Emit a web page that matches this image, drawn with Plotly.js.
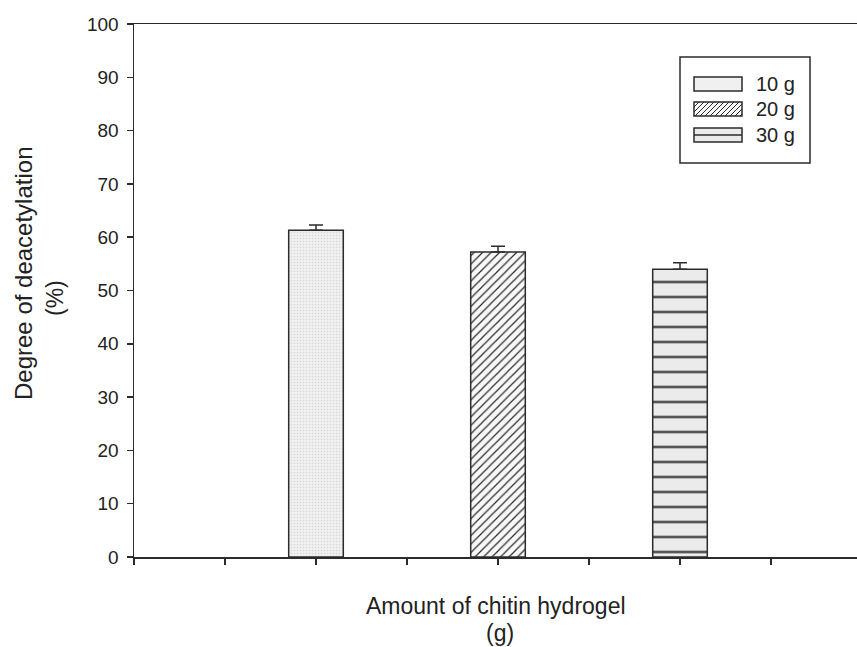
<!DOCTYPE html>
<html>
<head>
<meta charset="utf-8">
<script src="https://cdn.plot.ly/plotly-3.0.1.min.js"></script>
<style>
  html, body { margin: 0; padding: 0; background: #ffffff; overflow: hidden; }
  #chart { width: 870px; height: 647px; }
</style>
</head>
<body>
<div id="chart"></div>
<script>
// Degree of deacetylation for each amount of chitin hydrogel
const categories = ['10 g', '20 g', '30 g'];
const positions = [1, 2, 3];
const dda = [61.3, 57.2, 54.0];
const ddaErr = [1.0, 1.1, 1.2];
const yTicks = [0, 10, 20, 30, 40, 50, 60, 70, 80, 90, 100];
const xTicks = [0, 0.5, 1, 1.5, 2, 2.5, 3, 3.5, 4];

const INK = '#2b2b2b';
const TEXT = '#222222';
const FONT = 'Liberation Sans, Arial, sans-serif';

// figure geometry (pixels)
const W = 870, H = 647;
const M = { l: 134, r: 8, t: 24, b: 90 };
const plotW = W - M.l - M.r, plotH = H - M.t - M.b;
const px = x => (x - M.l) / plotW;          // pixel x -> paper x
const py = y => (H - M.b - y) / plotH;      // pixel y -> paper y

// fill style per amount: stipple, diagonal hatch, horizontal rules
const patterns = [
  { shape: '.', bgcolor: '#f0f0f0', fgcolor: '#d6d6d6', size: 3, solidity: 0.2 },
  { shape: '/', bgcolor: '#f8f8f8', fgcolor: INK, size: 6, solidity: 0.2 },
  { shape: '-', bgcolor: '#ebebeb', fgcolor: INK, size: 15, solidity: 0.14 }
];

const traces = categories.map((name, i) => ({
  type: 'bar',
  name: name,
  x: [positions[i]],
  y: [dda[i]],
  width: 0.3,
  showlegend: false,
  marker: {
    color: patterns[i].bgcolor,
    line: { color: INK, width: 1.5 },
    pattern: Object.assign({ fillmode: 'replace' }, patterns[i])
  },
  error_y: {
    type: 'data',
    symmetric: false,
    array: [ddaErr[i]],
    arrayminus: [0],
    color: INK,
    thickness: 1.5,
    width: 7
  },
  hoverinfo: 'skip'
}));

// ---- legend box drawn with shapes so the swatches can be wide ----
const legBox = { x0: 680, x1: 810, y0: 57, y1: 163 };
const swX0 = 694, swX1 = 742, swH = 14;
const rowTop = [77, 102, 128];

const shapes = [{
  type: 'rect', xref: 'paper', yref: 'paper', layer: 'above',
  x0: px(legBox.x0), x1: px(legBox.x1), y0: py(legBox.y1), y1: py(legBox.y0),
  fillcolor: '#ffffff', line: { color: INK, width: 1.5 }
}];

rowTop.forEach((top, i) => {
  const bot = top + swH;
  shapes.push({
    type: 'rect', xref: 'paper', yref: 'paper', layer: 'above',
    x0: px(swX0), x1: px(swX1), y0: py(bot), y1: py(top),
    fillcolor: patterns[i].bgcolor, line: { width: 0 }
  });
  if (patterns[i].shape === '/') {
    // diagonal hatch clipped to the swatch
    let d = '';
    const step = 5;
    for (let c = swX0 - swH; c < swX1; c += step) {
      let xa = c, ya = bot, xb = c + swH, yb = top;
      if (xa < swX0) { ya = bot - (swX0 - xa); xa = swX0; }
      if (xb > swX1) { yb = top + (xb - swX1); xb = swX1; }
      if (xb <= xa) continue;
      d += `M${px(xa)},${py(ya)}L${px(xb)},${py(yb)}`;
    }
    shapes.push({ type: 'path', xref: 'paper', yref: 'paper', layer: 'above',
      path: d, line: { color: INK, width: 1 } });
  } else if (patterns[i].shape === '-') {
    const mid = top + swH / 2;
    shapes.push({ type: 'line', xref: 'paper', yref: 'paper', layer: 'above',
      x0: px(swX0), x1: px(swX1), y0: py(mid), y1: py(mid),
      line: { color: INK, width: 1.5 } });
  }
  shapes.push({
    type: 'rect', xref: 'paper', yref: 'paper', layer: 'above',
    x0: px(swX0), x1: px(swX1), y0: py(bot), y1: py(top),
    fillcolor: 'rgba(0,0,0,0)', line: { color: INK, width: 1.5 }
  });
});

const annotations = categories.map((name, i) => ({
  text: name, xref: 'paper', yref: 'paper',
  x: px(754), y: py(rowTop[i] + swH / 2), xanchor: 'left', yanchor: 'middle',
  showarrow: false, font: { family: FONT, size: 20, color: TEXT }
}));

annotations.push(
  { text: 'Amount of chitin hydrogel', xref: 'paper', yref: 'paper',
    x: px(496), y: py(606), xanchor: 'center', yanchor: 'middle', showarrow: false,
    font: { family: FONT, size: 23, color: TEXT } },
  { text: '(g)', xref: 'paper', yref: 'paper',
    x: px(500), y: py(633), xanchor: 'center', yanchor: 'middle', showarrow: false,
    font: { family: FONT, size: 23, color: TEXT } },
  { text: 'Degree of deacetylation', xref: 'paper', yref: 'paper',
    x: px(23), y: py(273), xanchor: 'center', yanchor: 'middle', showarrow: false,
    textangle: -90, font: { family: FONT, size: 24, color: TEXT } },
  { text: '(%)', xref: 'paper', yref: 'paper',
    x: px(55), y: py(298), xanchor: 'center', yanchor: 'middle', showarrow: false,
    textangle: -90, font: { family: FONT, size: 23, color: TEXT } }
);

const layout = {
  width: W,
  height: H,
  margin: M,
  paper_bgcolor: '#ffffff',
  plot_bgcolor: '#ffffff',
  barmode: 'overlay',
  showlegend: false,
  font: { family: FONT, color: TEXT },
  xaxis: {
    range: [0, 4],
    tickmode: 'array',
    tickvals: xTicks,
    showticklabels: false,
    ticks: 'outside',
    ticklen: 6,
    tickwidth: 1.5,
    tickcolor: INK,
    showline: true,
    linecolor: INK,
    linewidth: 1.5,
    mirror: true,
    showgrid: false,
    zeroline: false
  },
  yaxis: {
    range: [0, 100],
    tickmode: 'array',
    tickvals: yTicks,
    ticktext: yTicks.map(String),
    ticks: 'outside',
    ticklen: 6,
    tickwidth: 1.5,
    tickcolor: INK,
    ticklabelstandoff: 4,
    tickfont: { family: FONT, size: 19, color: TEXT },
    showline: true,
    linecolor: INK,
    linewidth: 1.5,
    showgrid: false,
    zeroline: false
  },
  shapes: shapes,
  annotations: annotations
};

Plotly.newPlot('chart', traces, layout, { staticPlot: true, displayModeBar: false }).then(gd => {
  // shift the horizontal-rule fill of the 30 g bar so a rule sits just above the baseline
  const barGroups = gd.querySelectorAll('.barlayer .trace');
  const lastBar = barGroups.length ? barGroups[barGroups.length - 1].querySelector('path') : null;
  if (!lastBar) return;
  const fill = (lastBar.getAttribute('style') || '') + ' ' + (lastBar.getAttribute('fill') || '');
  const m = fill.match(/url\(["']?#([^"')]+)/);
  if (!m) return;
  const pat = document.getElementById(m[1]);
  if (pat) pat.setAttribute('patternTransform', 'translate(0,-4.5)');
});
</script>
</body>
</html>
